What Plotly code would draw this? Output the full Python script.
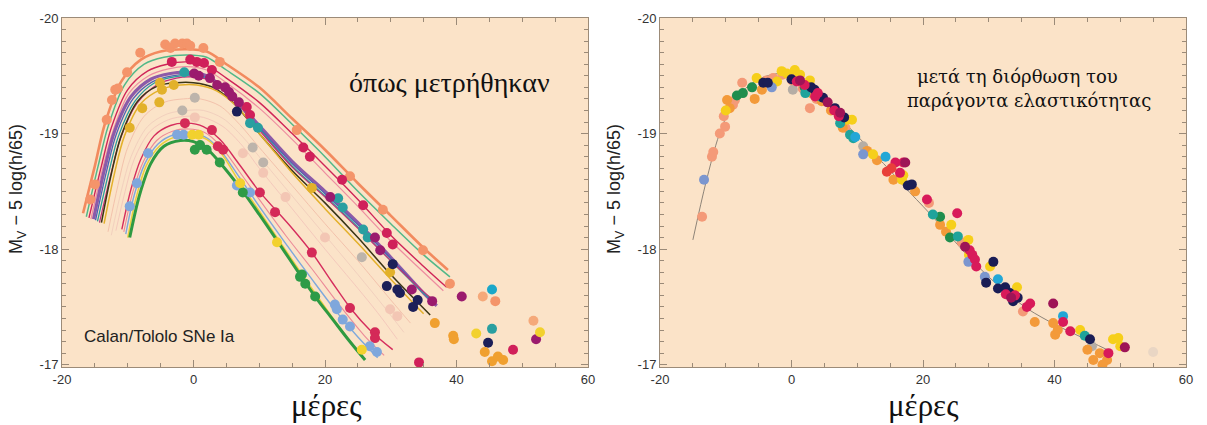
import plotly.graph_objects as go

# ---------------- axis ticks ----------------
x_tick_vals = [-20, 0, 20, 40, 60]
x_tick_text = ["-20", "0", "20", "40", "60"]
y_tick_vals = [-20, -19, -18, -17]
y_tick_text = ["-20", "-19", "-18", "-17"]
x_minor_step = 5
y_minor_step = 0.1

# ---------------- LEFT PANEL: fitted light curves (day, magnitude knots) ----------------
lc_salmon_day = [-16.8, -15.0, -13.5, -11.0, -8.0, -5.0, -1.0, 2.0, 5.0, 10.0, 15.0, 20.0, 25.0, 30.0, 35.0, 38.7]
lc_salmon_mag = [-18.31, -18.72, -19.08, -19.45, -19.64, -19.71, -19.73, -19.71, -19.60, -19.40, -19.13, -18.86, -18.57, -18.29, -18.01, -17.82]
lc_green_day = [-16.3, -14.5, -13.0, -10.5, -7.5, -4.5, -1.0, 2.0, 5.0, 10.0, 15.0, 20.0, 25.0, 30.0, 35.0, 39.0]
lc_green_mag = [-18.28, -18.72, -19.06, -19.42, -19.60, -19.66, -19.68, -19.66, -19.55, -19.35, -19.08, -18.80, -18.50, -18.22, -17.95, -17.76]
lc_crimson_day = [-15.9, -14.0, -12.5, -10.0, -7.0, -4.0, -1.0, 2.0, 5.0, 10.0, 15.0, 20.0, 25.0, 30.0, 35.0, 38.5]
lc_crimson_mag = [-18.27, -18.72, -19.05, -19.38, -19.54, -19.60, -19.62, -19.59, -19.48, -19.27, -19.00, -18.72, -18.43, -18.12, -17.85, -17.67]
lc_pink_day = [-15.6, -13.8, -12.2, -9.8, -6.8, -3.8, -1.0, 2.0, 5.0, 10.0, 15.0, 20.0, 25.0, 30.0, 35.0, 38.0]
lc_pink_mag = [-18.26, -18.70, -19.03, -19.35, -19.50, -19.56, -19.58, -19.55, -19.44, -19.22, -18.95, -18.66, -18.37, -18.07, -17.80, -17.64]
lc_purple_day = [-15.2, -13.5, -12.0, -9.5, -6.5, -3.5, -1.0, 2.0, 5.0, 10.0, 15.0, 20.0, 25.0, 30.0, 35.0, 37.0]
lc_purple_mag = [-18.26, -18.70, -19.02, -19.32, -19.47, -19.52, -19.53, -19.50, -19.37, -19.07, -18.76, -18.50, -18.23, -17.93, -17.62, -17.51]
lc_blue_day = [-14.9, -13.2, -11.7, -9.2, -6.2, -3.2, -0.8, 2.2, 5.2, 10.0, 15.0, 20.0, 25.0, 30.0, 35.0, 36.8]
lc_blue_mag = [-18.25, -18.68, -19.00, -19.30, -19.45, -19.50, -19.51, -19.48, -19.35, -19.05, -18.74, -18.48, -18.21, -17.92, -17.62, -17.53]
lc_teal_day = [-14.6, -12.9, -11.4, -8.9, -5.9, -2.9, -0.6, 2.4, 5.4, 10.0, 15.0, 20.0, 25.0, 30.0, 35.0, 36.5]
lc_teal_mag = [-18.24, -18.66, -18.98, -19.28, -19.44, -19.49, -19.50, -19.47, -19.34, -19.04, -18.72, -18.46, -18.19, -17.90, -17.62, -17.55]
lc_magenta_day = [-14.3, -12.6, -11.1, -8.6, -5.6, -2.6, -0.4, 2.6, 5.6, 10.0, 15.0, 20.0, 25.0, 30.0, 35.0, 36.3]
lc_magenta_mag = [-18.23, -18.64, -18.96, -19.26, -19.42, -19.48, -19.49, -19.46, -19.33, -19.03, -18.71, -18.45, -18.18, -17.90, -17.63, -17.57]
lc_olive_day = [-14.0, -12.5, -11.0, -8.5, -5.5, -2.5, 0.0, 3.0, 6.0, 10.0, 15.0, 20.0, 25.0, 30.0, 36.0]
lc_olive_mag = [-18.23, -18.65, -18.98, -19.28, -19.41, -19.44, -19.44, -19.40, -19.27, -19.00, -18.68, -18.40, -18.10, -17.78, -17.43]
lc_gold_day = [-13.6, -12.0, -10.5, -8.0, -5.0, -2.0, 0.5, 3.5, 6.5, 10.0, 15.0, 20.0, 25.0, 30.0, 35.0]
lc_gold_mag = [-18.22, -18.66, -18.98, -19.26, -19.38, -19.42, -19.42, -19.37, -19.24, -19.00, -18.66, -18.35, -18.05, -17.74, -17.44]
lc_pale1_day = [-13.0, -11.5, -10.0, -7.5, -4.5, -1.5, 1.0, 4.0, 7.0, 10.0, 15.0, 20.0, 25.0, 30.0, 33.0]
lc_pale1_mag = [-18.15, -18.55, -18.88, -19.15, -19.27, -19.30, -19.30, -19.24, -19.08, -18.88, -18.55, -18.22, -17.90, -17.56, -17.36]
lc_pale2_day = [-12.5, -11.0, -9.5, -7.0, -4.0, -1.0, 1.5, 4.5, 7.5, 10.0, 15.0, 20.0, 25.0, 29.0, 32.0]
lc_pale2_mag = [-18.12, -18.50, -18.80, -19.06, -19.17, -19.20, -19.20, -19.13, -18.97, -18.80, -18.46, -18.12, -17.78, -17.50, -17.28]
lc_pale3_day = [-11.8, -10.4, -9.0, -6.6, -3.8, -1.0, 1.5, 4.5, 7.5, 10.0, 15.0, 20.0, 25.0, 28.0, 31.0]
lc_pale3_mag = [-18.16, -18.50, -18.78, -19.02, -19.12, -19.15, -19.14, -19.06, -18.89, -18.70, -18.35, -18.00, -17.66, -17.45, -17.22]
lc_locrimson_day = [-10.9, -9.5, -8.0, -6.0, -3.5, -1.0, 1.5, 4.0, 7.0, 10.0, 14.7, 18.0, 21.0, 24.0, 27.0, 30.3]
lc_locrimson_mag = [-18.17, -18.52, -18.78, -18.98, -19.07, -19.09, -19.06, -18.95, -18.73, -18.50, -18.20, -17.97, -17.72, -17.48, -17.29, -17.13]
lc_lopink_day = [-10.6, -9.2, -7.6, -5.6, -3.2, -0.8, 1.7, 4.0, 7.0, 10.0, 14.0, 18.0, 22.0, 26.0, 29.0]
lc_lopink_mag = [-18.15, -18.50, -18.76, -18.94, -19.02, -19.04, -19.01, -18.90, -18.67, -18.43, -18.12, -17.83, -17.53, -17.25, -17.08]
lc_loblue_day = [-10.3, -9.0, -7.4, -5.4, -3.0, -0.6, 1.8, 4.0, 7.0, 10.0, 14.0, 18.0, 22.0, 25.0, 28.0]
lc_loblue_mag = [-18.13, -18.47, -18.74, -18.91, -18.99, -19.00, -18.97, -18.86, -18.62, -18.37, -18.05, -17.74, -17.44, -17.24, -17.06]
lc_loyellow_day = [-10.0, -8.7, -7.2, -5.2, -2.8, -0.4, 2.0, 4.2, 7.0, 10.0, 14.0, 18.0, 22.0, 25.5]
lc_loyellow_mag = [-18.10, -18.45, -18.72, -18.89, -18.97, -18.98, -18.95, -18.83, -18.58, -18.33, -17.99, -17.66, -17.34, -17.08]
lc_logreen_day = [-9.7, -8.2, -6.5, -4.5, -2.0, 0.0, 2.0, 4.0, 7.5, 10.0, 13.0, 16.3, 18.5, 21.2, 23.5, 26.1]
lc_logreen_mag = [-18.10, -18.47, -18.74, -18.89, -18.94, -18.93, -18.87, -18.75, -18.50, -18.30, -18.05, -17.77, -17.59, -17.39, -17.22, -17.04]

# ---------------- LEFT PANEL: observed points ----------------
lp_salmon_day = [-15.7, -15.0, -13.2, -12.4, -11.9, -11.5, -10.1, -8.1, -4.3, -3.5, -2.8, -1.7, -1.0, -0.5, 1.5, 4.0, 15.7, 23.8, 28.8, 34.9, 39.0, 45.9]
lp_salmon_mag = [-18.43, -18.56, -19.12, -19.29, -19.38, -19.39, -19.53, -19.70, -19.77, -19.74, -19.78, -19.78, -19.78, -19.76, -19.74, -19.62, -19.03, -18.63, -18.34, -17.99, -17.70, -17.55]
lp_crimson_day = [-3.3, -0.5, 0.5, 1.6, 2.8, 8.1, 8.6, 16.7, 17.7, 22.6, 25.8, 29.4, 30.3, 34.3, 48.6]
lp_crimson_mag = [-19.62, -19.64, -19.62, -19.61, -19.55, -19.23, -19.16, -18.88, -18.80, -18.60, -18.38, -18.14, -18.04, -17.02, -17.13]
lp_teal_day = [-1.4, 8.6, 9.8, 22.0, 22.7, 25.8, 26.5, 45.4]
lp_teal_mag = [-19.53, -19.09, -19.05, -18.44, -18.36, -18.17, -18.10, -17.31]
lp_magenta_day = [0.1, 0.8, 2.5, 3.6, 4.8, 5.4, 5.9, 6.9, 20.8, 27.6, 28.4, 33.2, 36.3, 40.8, 52.1]
lp_magenta_mag = [-19.52, -19.50, -19.48, -19.42, -19.40, -19.36, -19.32, -19.27, -18.45, -18.10, -17.99, -17.65, -17.55, -17.59, -17.22]
lp_navy_day = [6.6, 30.3, 29.4, 31.0, 31.4, 34.1, 33.4, 44.8]
lp_navy_mag = [-19.19, -17.87, -17.68, -17.65, -17.62, -17.56, -17.50, -17.19]
lp_gold_day = [-9.7, -7.8, -5.2, -5.1, -4.8, -3.0, 18.0, 29.9]
lp_gold_mag = [-19.05, -19.22, -19.27, -19.44, -19.38, -19.42, -18.53, -17.80]
lp_gray_day = [0.2, -1.7, 9.0, 10.6, 25.6]
lp_gray_mag = [-19.31, -19.20, -18.88, -18.75, -17.93]
lp_pale_day = [0.2, 7.5, 10.6, 14.0, 20.0, 29.9, 31.0]
lp_pale_mag = [-19.14, -18.83, -18.66, -18.45, -18.10, -17.48, -17.42]
lp_locrimson_day = [-1.3, 2.8, 3.7, 4.5, 10.1, 12.4, 18.0, 23.8, 27.6, 27.6]
lp_locrimson_mag = [-19.09, -19.03, -18.89, -18.86, -18.49, -18.32, -17.97, -17.49, -17.28, -17.23]
lp_loblue_day = [-9.7, -8.6, -6.9, -2.5, -1.5, 6.6, 8.6, 21.5, 21.8, 22.7, 23.8, 26.8, 27.9]
lp_loblue_mag = [-18.37, -18.57, -18.83, -18.99, -18.99, -18.55, -18.49, -17.52, -17.48, -17.39, -17.33, -17.16, -17.11]
lp_logreen_day = [0.2, 1.0, 2.0, 4.0, 7.5, 16.2, 16.5, 17.0, 18.5]
lp_logreen_mag = [-18.86, -18.90, -18.86, -18.75, -18.49, -17.76, -17.78, -17.70, -17.59]
lp_yellow_day = [-0.2, 0.8, 7.1, 12.7, 25.6, 43.0, 52.7]
lp_yellow_mag = [-18.99, -18.99, -18.57, -18.06, -17.13, -17.27, -17.28]
lp_orange_day = [36.7, 39.5, 39.6, 44.3, 45.4, 46.3, 47.1]
lp_orange_mag = [-17.36, -17.25, -17.22, -17.11, -17.03, -17.07, -17.04]
lp_peach_day = [44.0, 51.7]
lp_peach_mag = [-17.59, -17.38]
lp_cyan_day = [45.4]
lp_cyan_mag = [-17.65]

# ---------------- RIGHT PANEL: stretch-corrected template and points ----------------
template_day = [-15.0, -13.0, -11.0, -9.0, -7.0, -5.0, -3.0, -1.0, 1.0, 3.0, 5.0, 7.0, 9.0, 11.0, 13.0, 15.0, 17.0, 19.0, 21.0, 24.0, 27.0, 30.0, 33.0, 36.0, 40.0, 44.0, 48.0]
template_mag = [-18.08, -18.58, -18.99, -19.25, -19.39, -19.47, -19.51, -19.52, -19.48, -19.39, -19.28, -19.16, -19.04, -18.92, -18.80, -18.68, -18.55, -18.43, -18.31, -18.12, -17.93, -17.76, -17.61, -17.48, -17.35, -17.24, -17.13]

rp_salmon_day = [-13.6, -12.1, -11.9, -10.9, -10.3, -10.1, -8.9, -8.6, -7.5, -3.8, -2.8, -1.4, 0.1, 0.5, 1.7, 2.8, 2.8, 3.8, 5.0, 8.2, 20.9, 25.9, 35.2]
rp_salmon_mag = [-18.28, -18.80, -18.84, -19.00, -19.15, -19.06, -19.25, -19.29, -19.44, -19.46, -19.48, -19.51, -19.46, -19.50, -19.39, -19.39, -19.22, -19.30, -19.28, -19.05, -18.40, -18.06, -17.46]
rp_orange_day = [-9.8, -9.4, -5.6, -4.5, 3.0, 4.6, 6.0, 7.8, 11.5, 13.0, 15.5, 18.8, 22.6, 23.5, 37.0, 39.8, 40.1, 40.5, 45.0, 45.9, 46.9, 48.0, 47.3]
rp_orange_mag = [-19.29, -19.22, -19.30, -19.38, -19.35, -19.28, -19.20, -19.05, -18.85, -18.77, -18.60, -18.50, -18.21, -18.15, -17.37, -17.36, -17.26, -17.30, -17.13, -17.04, -17.10, -17.04, -17.00]
rp_yellow_day = [-10.0, -5.3, -2.2, -1.5, -0.7, 0.5, 1.3, 2.8, 8.5, 9.2, 12.4, 16.8, 17.0, 24.3, 26.9, 27.0, 30.2, 34.3, 43.9, 48.9, 49.7, 50.0]
rp_yellow_mag = [-19.20, -19.48, -19.45, -19.54, -19.52, -19.55, -19.51, -19.46, -19.12, -19.12, -18.82, -18.60, -18.64, -18.21, -18.08, -17.95, -17.85, -17.67, -17.30, -17.22, -17.23, -17.16]
rp_green_day = [-8.3, -7.4, -6.0, 2.0, 22.6, 24.1]
rp_green_mag = [-19.33, -19.35, -19.40, -19.40, -18.28, -18.10]
rp_teal_day = [2.1, 4.3, 7.4, 8.9, 9.4, 21.5, 25.3, 44.6]
rp_teal_mag = [-19.35, -19.32, -19.09, -18.99, -18.96, -18.30, -18.11, -17.25]
rp_cyan_day = [9.7, 14.3, 31.4, 41.3]
rp_cyan_mag = [-18.97, -18.80, -17.74, -17.42]
rp_blue_day = [-13.3, -3.0, 10.9, 26.9, 29.4]
rp_blue_mag = [-18.60, -19.40, -18.82, -17.89, -17.76]
rp_navy_day = [-4.3, -3.6, 0.0, 3.0, 3.5, 4.8, 6.6, 8.0, 17.7, 18.3, 30.7, 29.6, 31.4, 32.5, 33.7, 34.4, 33.2, 45.4]
rp_navy_mag = [-19.44, -19.44, -19.47, -19.40, -19.38, -19.31, -19.22, -19.14, -18.55, -18.56, -17.89, -17.71, -17.66, -17.67, -17.55, -17.58, -17.62, -17.22]
rp_crimson_day = [0.8, 2.0, 3.6, 4.0, 6.5, 7.2, 15.8, 17.0, 16.5, 20.6, 25.2, 27.1, 27.5, 27.9, 28.1, 32.6, 34.0, 35.8, 36.3, 41.3, 42.4, 48.2]
rp_crimson_mag = [-19.45, -19.42, -19.32, -19.35, -19.20, -19.15, -18.75, -18.75, -18.66, -18.43, -18.31, -17.99, -17.95, -17.91, -17.85, -17.61, -17.60, -17.50, -17.53, -17.37, -17.29, -17.10]
rp_magenta_day = [1.3, 5.5, 7.4, 17.3, 26.4, 33.4, 39.8, 50.7]
rp_magenta_mag = [-19.46, -19.27, -19.18, -18.75, -18.02, -17.58, -17.53, -17.15]
rp_red_day = [14.5, 15.2]
rp_red_mag = [-18.67, -18.70]
rp_gray_day = [0.2, 10.9, 45.7]
rp_gray_mag = [-19.38, -18.89, -17.16]
rp_faint_day = [55.0]
rp_faint_mag = [-17.11]

# ---------------- styles ----------------
line_styles = [
    (lc_pale3_day, lc_pale3_mag, "#F4C9BC", 1.0),
    (lc_pale2_day, lc_pale2_mag, "#F2D0BE", 1.0),
    (lc_pale1_day, lc_pale1_mag, "#F3C2AC", 1.0),
    (lc_salmon_day, lc_salmon_mag, "#F28A5E", 2.6),
    (lc_green_day, lc_green_mag, "#52B888", 1.5),
    (lc_crimson_day, lc_crimson_mag, "#CF2458", 1.4),
    (lc_pink_day, lc_pink_mag, "#EE8CA0", 1.2),
    (lc_purple_day, lc_purple_mag, "#8C5AA8", 3.2),
    (lc_blue_day, lc_blue_mag, "#4C63B6", 1.3),
    (lc_teal_day, lc_teal_mag, "#2A9C9C", 1.3),
    (lc_magenta_day, lc_magenta_mag, "#C0307A", 1.2),
    (lc_olive_day, lc_olive_mag, "#3A3515", 1.5),
    (lc_gold_day, lc_gold_mag, "#E3B02A", 1.5),
    (lc_lopink_day, lc_lopink_mag, "#EC8A98", 1.1),
    (lc_locrimson_day, lc_locrimson_mag, "#D52D5D", 1.4),
    (lc_loblue_day, lc_loblue_mag, "#7EA8DC", 1.4),
    (lc_loyellow_day, lc_loyellow_mag, "#E9D03A", 1.5),
    (lc_logreen_day, lc_logreen_mag, "#2E9A42", 3.0),
]
left_point_styles = [
    (lp_pale_day, lp_pale_mag, "#F3C6B4"),
    (lp_gray_day, lp_gray_mag, "#BDB4AB"),
    (lp_salmon_day, lp_salmon_mag, "#F4946A"),
    (lp_gold_day, lp_gold_mag, "#E2B12A"),
    (lp_crimson_day, lp_crimson_mag, "#D0205A"),
    (lp_teal_day, lp_teal_mag, "#2A9FA0"),
    (lp_magenta_day, lp_magenta_mag, "#9B1B6E"),
    (lp_navy_day, lp_navy_mag, "#1C1F58"),
    (lp_locrimson_day, lp_locrimson_mag, "#D42A58"),
    (lp_loblue_day, lp_loblue_mag, "#7FA7DC"),
    (lp_logreen_day, lp_logreen_mag, "#2E9B47"),
    (lp_yellow_day, lp_yellow_mag, "#F2D12E"),
    (lp_orange_day, lp_orange_mag, "#F0A030"),
    (lp_peach_day, lp_peach_mag, "#F5A97A"),
    (lp_cyan_day, lp_cyan_mag, "#1BA7C9"),
]
right_point_styles = [
    (rp_faint_day, rp_faint_mag, "#E9D6C4"),
    (rp_gray_day, rp_gray_mag, "#B5ADA5"),
    (rp_salmon_day, rp_salmon_mag, "#F49A78"),
    (rp_orange_day, rp_orange_mag, "#F39A3A"),
    (rp_yellow_day, rp_yellow_mag, "#F6CF1A"),
    (rp_green_day, rp_green_mag, "#1F8E4E"),
    (rp_teal_day, rp_teal_mag, "#1FA39B"),
    (rp_cyan_day, rp_cyan_mag, "#22A7D6"),
    (rp_blue_day, rp_blue_mag, "#7B96CF"),
    (rp_navy_day, rp_navy_mag, "#1A1D55"),
    (rp_crimson_day, rp_crimson_mag, "#D81A5A"),
    (rp_magenta_day, rp_magenta_mag, "#9E1457"),
    (rp_red_day, rp_red_mag, "#E8403A"),
]

MARKER_SIZE = 10
fig = go.Figure()

for d, m, c, w in line_styles:
    fig.add_trace(go.Scatter(x=d, y=m, mode="lines", xaxis="x", yaxis="y",
                             line=dict(color=c, width=w, shape="spline", smoothing=0.9),
                             hoverinfo="skip", showlegend=False))
for d, m, c in left_point_styles:
    fig.add_trace(go.Scatter(x=d, y=m, mode="markers", xaxis="x", yaxis="y",
                             marker=dict(color=c, size=MARKER_SIZE, line=dict(width=0)),
                             hoverinfo="skip", showlegend=False))

fig.add_trace(go.Scatter(x=template_day, y=template_mag, mode="lines", xaxis="x2", yaxis="y2",
                         line=dict(color="#8E8478", width=1, shape="spline", smoothing=0.9),
                         hoverinfo="skip", showlegend=False))
for d, m, c in right_point_styles:
    fig.add_trace(go.Scatter(x=d, y=m, mode="markers", xaxis="x2", yaxis="y2",
                             marker=dict(color=c, size=MARKER_SIZE, line=dict(width=0)),
                             hoverinfo="skip", showlegend=False))

AX_COLOR = "#9C8B78"
TICK_COLOR = "#9A8A78"
tickfont = dict(family="Liberation Sans, Arial, sans-serif", size=13, color="#333333")

def xaxis_cfg(domain, anchor):
    return dict(domain=domain, anchor=anchor, range=[-20, 60], tickmode="array",
                tickvals=x_tick_vals, ticktext=x_tick_text, ticks="inside", ticklen=7,
                tickwidth=1, tickcolor=TICK_COLOR, showline=True, linecolor=AX_COLOR,
                linewidth=1, mirror="ticks", showgrid=False, zeroline=False,
                tickfont=tickfont,
                minor=dict(tickmode="linear", tick0=-20, dtick=x_minor_step, ticks="inside",
                           ticklen=4, tickwidth=1, tickcolor=TICK_COLOR, showgrid=False))

def yaxis_cfg(anchor):
    return dict(domain=[0, 1], anchor=anchor, range=[-16.98, -20.0], tickmode="array",
                tickvals=y_tick_vals, ticktext=y_tick_text, ticks="inside", ticklen=7,
                tickwidth=1, tickcolor=TICK_COLOR, showline=True, linecolor=AX_COLOR,
                linewidth=1, mirror="ticks", showgrid=False, zeroline=False,
                tickfont=tickfont,
                minor=dict(tickmode="linear", tick0=-20, dtick=y_minor_step, ticks="inside",
                           ticklen=4, tickwidth=1, tickcolor=TICK_COLOR, showgrid=False))

plot_w = 1207 - 62 - 21
left_dom = [0, 526 / plot_w]
right_dom = [(660 - 62) / plot_w, 1]

serif = "Liberation Serif, Times New Roman, serif"
serif2 = "DejaVu Serif, serif"
sans = "Liberation Sans, Arial, sans-serif"
ytitle = "M<sub>V</sub> − 5 log(h/65)"

annotations = [
    dict(text="όπως μετρήθηκαν", x=39.0, y=-19.44, xref="x", yref="y", showarrow=False,
         font=dict(family=serif, size=28, color="#111111"), xanchor="center", yanchor="middle"),
    dict(text="Calan/Tololo SNe Ia", x=-17.0, y=-17.24, xref="x", yref="y", showarrow=False,
         font=dict(family=sans, size=17, color="#222222"), xanchor="left", yanchor="middle"),
    dict(text="μετά τη διόρθωση του", x=34.4, y=-19.49, xref="x2", yref="y2", showarrow=False,
         font=dict(family=serif2, size=18, color="#111111"), xanchor="center", yanchor="middle"),
    dict(text="παράγοντα ελαστικότητας", x=36.1, y=-19.29, xref="x2", yref="y2", showarrow=False,
         font=dict(family=serif2, size=18, color="#111111"), xanchor="center", yanchor="middle"),
    dict(text="μέρες", x=(326 - 62) / plot_w, y=(367 - 405) / 349, xref="paper", yref="paper",
         showarrow=False, font=dict(family=serif, size=31, color="#111111"),
         xanchor="center", yanchor="middle"),
    dict(text="μέρες", x=(923 - 62) / plot_w, y=(367 - 405) / 349, xref="paper", yref="paper",
         showarrow=False, font=dict(family=serif, size=31, color="#111111"),
         xanchor="center", yanchor="middle"),
    dict(text=ytitle, x=(17 - 62) / plot_w, y=(367 - 189) / 349, xref="paper", yref="paper",
         showarrow=False, textangle=-90, font=dict(family=sans, size=18, color="#222222"),
         xanchor="center", yanchor="middle"),
    dict(text=ytitle, x=(615 - 62) / plot_w, y=(367 - 189) / 349, xref="paper", yref="paper",
         showarrow=False, textangle=-90, font=dict(family=sans, size=18, color="#222222"),
         xanchor="center", yanchor="middle"),
]

BG = "#FBE3C8"
fig.update_layout(
    width=1207, height=425,
    margin=dict(l=62, r=21, t=18, b=58),
    paper_bgcolor="white", plot_bgcolor=BG,
    xaxis=xaxis_cfg(left_dom, "y"),
    yaxis=yaxis_cfg("x"),
    xaxis2=xaxis_cfg(right_dom, "y2"),
    yaxis2=yaxis_cfg("x2"),
    annotations=annotations,
    showlegend=False,
    hovermode=False,
)

fig.write_html("out.html")
